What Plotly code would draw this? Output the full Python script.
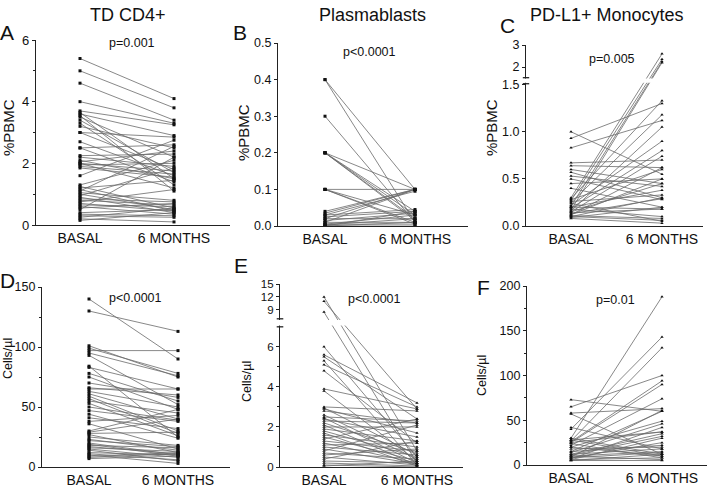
import plotly.graph_objects as go

W, H = 709, 490
FONT = "Liberation Sans, Arial, sans-serif"

time_labels = ["BASAL", "6 MONTHS"]

# A - TD CD4+ (%PBMC)
a_basal = [5.4, 5.0, 4.6, 4.0, 3.7, 3.65, 3.6, 3.55, 3.5, 3.4, 3.3, 3.2, 3.0, 3.0, 2.7, 2.5, 2.5,
           2.25, 2.2, 2.1, 2.05, 2.0, 2.0, 1.95, 1.9, 1.85, 1.6, 1.3, 1.25, 1.2, 1.15, 1.1, 1.05,
           1.0, 0.95, 0.9, 0.85, 0.8, 0.75, 0.7, 0.65, 0.6, 0.55, 0.5, 0.4, 0.35, 0.3, 0.25, 0.2, 0.15]
a_6m = [4.1, 3.8, 3.4, 3.3, 3.25, 1.5, 2.9, 1.1, 2.2, 1.7, 1.3, 2.5, 1.8, 2.85, 1.6, 2.6, 1.4,
        2.3, 1.9, 1.5, 2.4, 1.75, 1.2, 2.0, 1.65, 1.55, 2.75, 2.1, 0.55, 1.45, 0.45, 2.55, 0.8,
        0.5, 1.85, 0.4, 0.75, 0.65, 1.15, 0.45, 0.6, 0.35, 0.7, 2.2, 0.5, 0.3, 0.25, 0.55, 0.1, 0.4]

# B - Plasmablasts (%PBMC)
b_basal = [0.4, 0.4, 0.3, 0.2, 0.2, 0.2, 0.2, 0.2, 0.1, 0.1, 0.1, 0.1, 0.04, 0.035, 0.03, 0.03,
           0.025, 0.02, 0.02, 0.015, 0.01, 0.01, 0.005, 0.005, 0.003, 0.0, 0.0, 0.0]
b_6m = [0.1, 0.01, 0.01, 0.1, 0.04, 0.03, 0.02, 0.015, 0.1, 0.01, 0.005, 0.03, 0.1, 0.1, 0.095,
        0.045, 0.04, 0.1, 0.02, 0.035, 0.1, 0.01, 0.03, 0.005, 0.02, 0.01, 0.0, 0.04]

# C - PD-L1+ Monocytes (%PBMC)
c_basal = [1.0, 0.93, 0.83, 0.67, 0.64, 0.6, 0.57, 0.53, 0.5, 0.45, 0.4, 0.3, 0.29, 0.28, 0.27,
           0.26, 0.25, 0.24, 0.22, 0.21, 0.2, 0.19, 0.18, 0.17, 0.16, 0.15, 0.14, 0.13, 0.12, 0.11,
           0.1, 0.09, 0.08, 0.15, 0.2, 0.12, 0.1]
c_6m = [0.55, 1.3, 1.12, 0.7, 0.62, 0.45, 0.3, 0.42, 0.28, 0.5, 0.2, 2.6, 1.33, 0.6, 2.35,
        0.33, 1.18, 0.05, 0.9, 2.25, 0.38, 0.8, 0.1, 2.2, 1.05, 0.74, 0.18, 0.29, 0.62, 0.08,
        0.3, 0.2, 0.03, 0.45, 0.18, 0.5, 0.06]

# D - TD CD4+ (cells/ul)
d_basal = [140, 130, 101, 99, 97, 95, 93, 84, 83, 78, 75, 70, 66, 65, 63, 61, 59, 57, 55, 53, 50,
           47, 44, 41, 38, 36, 30, 29, 28, 27, 25, 23, 22, 20, 19, 18, 17, 16, 15, 14, 12, 11,
           10, 9, 8, 7]
d_6m = [90, 113, 75, 78, 97, 76, 52, 25, 65, 55, 48, 58, 60, 65, 50, 40, 30, 28, 45, 26, 39,
        38, 24, 32, 43, 15, 48, 40, 29, 12, 18, 14, 17, 10, 9, 16, 11, 13, 8, 5, 10, 6,
        3, 12, 11, 9]

# E - Plasmablasts (cells/ul)
e_basal = [12, 11, 8.5, 6.0, 5.6, 5.5, 5.3, 5.1, 4.8, 3.9, 3.8, 3.0, 2.95, 2.9, 2.8, 2.6, 2.5,
           2.45, 2.4, 2.3, 2.2, 2.1, 2.0, 1.9, 1.8, 1.7, 1.6, 1.5, 1.4, 1.3, 1.2, 1.1, 1.0, 0.9,
           0.8, 0.7, 0.6, 0.5, 0.4, 0.3, 0.2, 0.1, 0.05]
e_6m = [0.8, 2.9, 0.2, 0.5, 3.2, 2.4, 0.1, 3.0, 1.2, 2.9, 0.3, 2.8, 0.6, 1.7, 2.2, 0.4, 2.3,
        0.2, 1.5, 2.2, 0.7, 0.1, 2.0, 1.3, 0.5, 0.05, 1.0, 0.3, 2.4, 0.8, 0.2, 1.2, 0.6, 0.15,
        2.1, 0.4, 0.9, 0.1, 1.3, 0.2, 0.05, 0.0, 0.3]

# F - PD-L1+ Monocytes (cells/ul)
f_basal = [73, 65, 58, 57, 42, 40, 30, 28, 27, 26, 25, 24, 22, 20, 18, 15, 14, 12, 11, 10, 9, 8,
           7, 6, 5, 25, 20, 15, 12, 10, 8, 6, 5, 30, 28]
f_6m = [60, 100, 63, 12, 18, 143, 188, 10, 131, 94, 90, 8, 74, 49, 20, 60, 46, 35, 32, 15, 61,
        25, 42, 30, 12, 37, 10, 22, 18, 6, 14, 8, 5, 12, 37]

titles = ["TD CD4+", "Plasmablasts", "PD-L1+ Monocytes"]
letters = ["A", "B", "C", "D", "E", "F"]
p_values = ["p=0.001", "p<0.0001", "p=0.005", "p<0.0001", "p<0.0001", "p=0.01"]
y_titles = ["%PBMC", "%PBMC", "%PBMC", "Cells/µl", "Cells/µl", "Cells/µl"]


def brk(vals, cut, gap, k):
    # broken axis: values above the cut are compressed into the upper segment
    return [v if v <= cut else cut + gap + (v - cut) * k for v in vals]


C_CUT, C_GAP, C_K = 1.5, 0.07, 0.234
E_CUT, E_GAP, E_K = 7, 0.41, 0.216

# pixel layout: y-axis x, basal x, 6-month x, x-axis end, axis top, axis bottom
layout_px = [
    (36, 80, 174, 230, 40, 225),
    (278, 325, 415, 468, 43, 226),
    (526, 571, 662, 703, 45, 226),
    (42, 89, 178, 230, 287, 467),
    (280, 324, 417, 463, 284, 467),
    (527, 571, 662, 707, 286, 465),
]

series = [
    (a_basal, a_6m, "square"),
    (b_basal, b_6m, "square"),
    (brk(c_basal, C_CUT, C_GAP, C_K), brk(c_6m, C_CUT, C_GAP, C_K), "triangle-up"),
    (d_basal, d_6m, "square"),
    (brk(e_basal, E_CUT, E_GAP, E_K), brk(e_6m, E_CUT, E_GAP, E_K), "triangle-up"),
    (f_basal, f_6m, "triangle-up"),
]

c_top = C_CUT + C_GAP + (3 - C_CUT) * C_K
e_top = E_CUT + E_GAP + (15 - E_CUT) * E_K
y_ranges = [[0, 6], [0, 0.5], [0, c_top], [0, 150], [0, e_top], [0, 200]]
y_ticks = [
    ([0, 2, 4, 6], ["0", "2", "4", "6"]),
    ([0, 0.1, 0.2, 0.3, 0.4, 0.5], ["0.0", "0.1", "0.2", "0.3", "0.4", "0.5"]),
    ([0, 0.5, 1.0, 1.5] + brk([2, 3], C_CUT, C_GAP, C_K), ["0.0", "0.5", "1.0", "1.5", "2", "3"]),
    ([0, 50, 100, 150], ["0", "50", "100", "150"]),
    ([0, 2, 4, 6] + brk([9, 12, 15], E_CUT, E_GAP, E_K), ["0", "2", "4", "6", "9", "12", "15"]),
    ([0, 50, 100, 150, 200], ["0", "50", "100", "150", "200"]),
]
minor_ticks = [[1, 3, 5], None, None, [25, 75, 125], [1, 3, 5], [25, 75, 125, 175]]
tick_sizes = [13, 12.5, 12.5, 12.5, 11.5, 12.5]

fig = go.Figure()
annotations = []
shapes = []
AX = dict(color="#222", width=1.3)


def note(text, x, y, size, angle=0):
    return dict(text=text, x=x / W, y=1 - y / H, xref="paper", yref="paper",
                xanchor="center", yanchor="middle", textangle=angle, showarrow=False,
                font=dict(family=FONT, size=size, color="#111"))


for i, ((ax, bx, mx, ex, yt, yb), (base, six, sym)) in enumerate(zip(layout_px, series)):
    n = "" if i == 0 else str(i + 1)
    xs, ys = [], []
    for b, m in zip(base, six):
        xs += [0, 1, None]
        ys += [b, m, None]
    fig.add_trace(go.Scatter(
        x=xs, y=ys, mode="lines+markers", xaxis="x" + n, yaxis="y" + n,
        line=dict(color="#6a6a6a", width=0.8),
        marker=dict(symbol=sym, size=3, color="#111"),
        showlegend=False, hoverinfo="skip"))
    unit = mx - bx
    xr = [(ax - bx) / unit, 1 + (ex - mx) / unit]
    tv, tt = y_ticks[i]
    fig.layout["xaxis" + n] = dict(
        domain=[ax / W, ex / W], range=xr, anchor="y" + n, automargin=False,
        tickvals=[0, 1], ticktext=time_labels, ticks="", showgrid=False, zeroline=False,
        showline=True, linecolor="#222", linewidth=1.3,
        tickfont=dict(family=FONT, size=14, color="#111"))
    ydict = dict(
        domain=[1 - yb / H, 1 - yt / H], range=y_ranges[i], anchor="x" + n, automargin=False,
        tickvals=tv, ticktext=tt, ticks="outside", ticklen=3, tickwidth=1.2, tickcolor="#222",
        showgrid=False, zeroline=False, showline=True, linecolor="#222", linewidth=1.3,
        tickfont=dict(family=FONT, size=tick_sizes[i], color="#111"))
    if minor_ticks[i]:
        ydict["minor"] = dict(tickvals=minor_ticks[i], ticks="outside", ticklen=2,
                              tickwidth=1, tickcolor="#222")
    fig.layout["yaxis" + n] = ydict

    annotations.append(note(letters[i], [7, 240, 507, 7, 241, 483][i],
                            [32, 32, 26, 280, 265, 287][i], 21))
    annotations.append(note(p_values[i], [132, 369, 612, 135, 375, 615][i],
                            [43, 52, 59, 298, 299, 300][i], 12.5))
    annotations.append(note(y_titles[i], [8, 244, 491, 8, 247, 482][i],
                            [128, 133, 128, 359, 382, 376][i], 15 if i < 3 else 12.5, -90))

for t, cx in zip(titles, [128, 372, 607]):
    annotations.append(note(t, cx, 15, 18))

# axis breaks for C and E
for n, lo, hi in [("3", 1.51, 1.574), ("5", 7.0, 7.4)]:
    shapes.append(dict(type="rect", xref="x%s domain" % n, yref="y" + n, x0=-0.05, x1=1.0,
                       y0=lo + (hi - lo) * 0.15, y1=hi - (hi - lo) * 0.15,
                       fillcolor="white", line=dict(width=0), layer="above"))
    for yv in (lo, hi):
        shapes.append(dict(type="line", xref="x%s domain" % n, yref="y" + n, x0=-0.018, x1=0.018,
                           y0=yv, y1=yv, line=AX, layer="above"))

fig.update_layout(width=W, height=H, margin=dict(l=0, r=0, t=0, b=0),
                  paper_bgcolor="white", plot_bgcolor="white",
                  annotations=annotations, shapes=shapes)

# drop the browser's default body margin so the figure sits at the page origin
fig.write_html("out.html", config={"displayModeBar": False},
               post_script="document.body.style.margin='0';")
